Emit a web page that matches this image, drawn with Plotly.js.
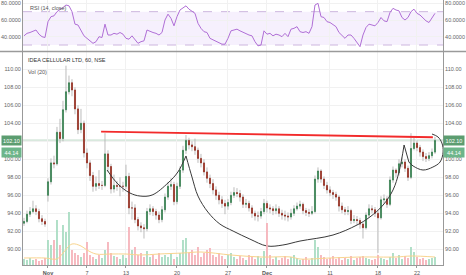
<!DOCTYPE html>
<html><head><meta charset="utf-8">
<script src="https://cdn.plot.ly/plotly-3.0.1.min.js"></script>
<style>html,body{margin:0;padding:0;background:#fff}#c{width:466px;height:275px}</style>
</head><body><div id="c"></div>
<script>
// ---- data (hourly bars, index based) ----
const tickIdx = [8, 21, 34, 51, 68, 81, 102, 118, 131];
const tickText = ['<b>Nov</b>', '7', '13', '20', '27', '<b>Dec</b>', '11', '18', '22'];

const open = [92.9,93.1,93.9,94.2,94.5,94.2,93.4,93.1, 96.0,97.5,99.6,99.5,103.0,102.3,105.5,107.5,
108.5,107.7,105.6,103.3,104.0,100.7,99.6,98.2, 97.0,97.3,97.1,97.1,100.6,99.2,96.7,97.1,
97.0,97.0,97.0,98.1,94.6,94.6,93.3,92.6, 92.4,92.3,94.2,94.5,94.2,93.8,93.3,94.4,
95.8,97.0,97.2,95.3,97.0,98.8,101.0,102.1, 101.6,101.4,101.0,100.1,99.6,98.6,97.9,97.3,
96.6,96.0,95.5,95.1,94.8,95.2,96.0,96.3, 96.2,95.8,95.0,95.1,94.6,94.0,93.7,93.7,
94.2,95.1,94.6,94.5,94.3,94.5,94.0,93.8, 93.7,93.6,94.0,94.5,94.8,95.0,94.3,94.1,
94.0,94.2,97.8,98.7,97.8,97.1,96.6,96.3, 96.1,95.8,94.8,94.4,94.2,94.3,93.2,93.3,
93.2,92.8,92.4,93.8,94.5,94.4,94.0,93.5, 95.5,95.6,95.0,97.7,98.8,98.5,99.5,99.7,
99.0,98.0,101.2,101.8,101.3,100.8,100.3,100.1, 100.4,100.8];
const high = [93.5,94.3,94.7,95.4,94.9,94.5,93.8,93.4, 97.9,100.1,100.4,103.6,104.5,106.5,110.4,109.3,
108.9,108.0,106.0,105.6,104.3,101.2,99.9,98.6, 98.1,98.8,97.6,102.9,101.0,99.5,98.3,97.6,
98.0,97.5,99.4,98.5,95.3,95.0,93.6,93.0, 92.8,94.6,95.0,94.8,94.5,94.2,94.8,96.2,
97.5,97.9,97.5,97.4,99.2,101.5,102.7,102.4, 102.0,102.3,101.3,100.6,100.0,99.1,98.3,97.8,
97.0,96.4,95.9,95.5,95.6,96.4,96.9,96.8, 96.6,96.1,95.6,95.4,94.9,94.3,94.2,94.6,
95.6,95.4,95.0,94.8,95.0,94.8,94.4,94.3, 94.1,94.5,94.9,95.2,95.4,95.2,94.6,94.5,
94.8,98.2,99.1,98.9,98.1,97.5,97.0,96.6, 96.4,96.0,95.2,94.7,94.8,94.5,93.8,93.7,
93.5,93.0,94.1,95.0,94.9,94.7,94.3,95.9, 96.1,95.9,98.1,99.2,99.0,100.0,100.2,100.0,
99.3,102.9,102.4,102.1,101.6,101.1,100.7,100.8, 101.2,102.5];
const low = [92.6,92.9,93.6,94.0,93.8,93.0,92.7,92.5, 95.3,97.2,99.0,99.3,101.8,102.0,105.2,107.2,
107.0,105.0,102.8,102.9,100.2,99.0,97.6,96.4, 96.5,96.7,96.6,96.9,98.6,96.2,96.3,96.5,
95.9,96.4,96.7,93.9,93.3,92.9,92.1,91.9, 91.2,92.0,93.8,93.7,93.3,92.9,93.0,94.1,
95.5,96.6,94.9,95.0,96.7,98.5,100.6,101.1, 100.9,100.5,99.6,99.1,98.2,97.4,96.8,96.1,
95.5,95.0,94.6,93.9,94.4,94.9,95.7,95.8, 95.3,94.6,94.6,94.2,93.5,93.2,93.1,93.4,
93.9,94.1,94.0,93.8,93.9,93.6,93.3,93.2, 93.1,93.3,93.7,94.3,94.5,93.9,93.7,93.6,
93.8,94.0,97.4,97.4,96.7,96.2,95.9,95.6, 95.4,94.2,94.0,93.8,93.8,92.8,92.9,92.7,
92.3,91.2,92.2,93.5,94.0,93.6,89.6,93.3, 95.1,94.6,94.8,97.4,98.0,98.2,99.1,98.6,
97.6,97.8,101.0,100.9,100.3,99.8,99.7,99.8, 100.1,100.6];
const close = [93.1,93.9,94.2,94.5,94.2,93.4,93.1,92.8, 97.5,99.6,99.5,103.0,102.3,105.5,107.5,108.5,
107.7,105.6,103.3,104.0,100.7,99.6,98.2,97.0, 97.3,97.1,97.1,100.6,99.2,96.7,97.1,97.0,
97.0,97.0,98.1,94.6,94.6,93.3,92.6,92.4, 92.3,94.2,94.5,94.2,93.8,93.3,94.4,95.8,
97.0,97.2,95.3,97.0,98.8,101.0,102.1,101.6, 101.4,101.0,100.1,99.6,98.6,97.9,97.3,96.6,
96.0,95.5,95.1,94.8,95.2,96.0,96.3,96.2, 95.8,95.0,95.1,94.6,94.0,93.7,93.7,94.2,
95.1,94.6,94.5,94.3,94.5,94.0,93.8,93.7, 93.6,94.0,94.5,94.8,95.0,94.3,94.1,94.0,
94.2,97.8,98.7,97.8,97.1,96.6,96.3,96.1, 95.8,94.8,94.4,94.2,94.3,93.2,93.3,93.2,
92.8,92.4,93.8,94.5,94.4,94.0,93.5,95.5, 95.6,95.0,97.7,98.8,98.5,99.5,99.7,99.0,
98.0,101.2,101.8,101.3,100.8,100.3,100.1,100.4, 100.8,102.1];
const volume = [6,5,7,5,6,4,5,7, 25,20,25,45,20,40,33,53, 15,12,10,8,12,23,10,8, 6,10,7,15,23,12,9,8,
6,10,7,38,15,18,10,12, 8,14,8,10,6,12,8,10, 8,11,6,8,12,25,27,12, 15,10,18,8,12,15,17,10,
8,12,9,6,10,12,8,6, 9,7,5,10,8,6,9,7, 14,42,10,6,8,5,7,9, 6,8,10,7,5,6,8,5,
7,25,18,10,8,6,7,9, 6,8,5,7,6,9,5,7, 8,9,7,6,5,6,10,7, 6,5,8,12,7,10,6,9,
7,18,13,8,6,7,5,6, 7,8];
const volMaIdx = [0,7,11,13,16,19,21,24,29,34,39,45,53,59,69,79,89,92,102,112,124,129,137];
const volMaVal = [7,7,6,12,21,19,15,11,11,11,10,11,12,13,10,8,8,6,7,8,8,9,8];
const rsi = [41,44,45,47,48,43,40,39, 58,64,65,70,72,75,78,77, 70,55,54,48,41,38,35,32,
34,40,39,55,42,42,44,43, 45,43,38,37,41,36,32,34, 35,48,46,45,44,42,45,60,
67,62,53,64,72,74,77,73, 70,68,56,50,46,45,38,36, 35,33,31,31,38,47,48,49,
47,45,43,42,41,34,29,30, 47,43,44,41,43,42,40,44, 40,49,50,52,46,45,46,44,
52,78,80,64,63,58,57,55, 52,45,41,38,42,42,38,33, 28,42,51,55,54,53,57,63,
59,58,69,74,72,71,63,60, 63,70,73,68,66,62,59,57, 62,68];
const lastPrice = 102.10;
const lastVol = 44.14;
// drawings
const resistX = [25.7, 136.3];
const resistY = [103.07, 102.45];
const cupSmallX = [27.7, 31.3, 35.3, 38.7, 42.7, 48, 51.3, 54];
const cupSmallY = [98.81, 97.26, 96.26, 95.92, 96.03, 97.37, 98.59, 100.37];
const cupBigX = [54, 56, 58, 61.3, 65.3, 69.7, 75.3, 81, 86.3, 92, 103, 111, 115.3, 119.7, 123, 125, 126.7];
const cupBigY = [100.37, 98.03, 95.92, 94.14, 92.81, 92.03, 91.14, 90.37, 90.48, 90.92, 91.59, 92.70, 93.59, 94.92, 96.59, 98.59, 101.59];
const dropX = [126.7, 128.3];
const dropY = [101.59, 99.70];
const handleX = [128.3, 129.7, 133, 136.3, 138.7, 139.7, 139.3, 138, 136];
const handleY = [99.70, 99.26, 98.81, 99.14, 99.70, 100.81, 101.81, 102.48, 102.81];

// ---- chart ----
const idx = close.map((_, i) => i);
const up = close.map((c, i) => c >= open[i]);
const FONT = 'Liberation Sans, Arial, sans-serif';
const tf = {family: FONT, size: 5.5, color: '#666'};

const traces = [
  {type: 'bar', x: idx, y: volume, yaxis: 'y3', width: 0.6,
   marker: {color: up.map(u => u ? '#a9dcc2' : '#f6b3ba'), line: {width: 0}}, hoverinfo: 'skip'},
  {type: 'scatter', mode: 'lines', x: volMaIdx, y: volMaVal, yaxis: 'y3',
   line: {color: '#f9d48e', width: 1, shape: 'spline'}, hoverinfo: 'skip'},
  {type: 'candlestick', x: idx, open: open, high: high, low: low, close: close,
   increasing: {line: {color: '#b4b4b4', width: 0.9}, fillcolor: '#b4b4b4'},
   decreasing: {line: {color: '#b4b4b4', width: 0.9}, fillcolor: '#b4b4b4'},
   whiskerwidth: 0, hoverinfo: 'skip'},
  {type: 'candlestick', x: idx, open: open, close: close,
   high: open.map((o, i) => Math.max(o, close[i])), low: open.map((o, i) => Math.min(o, close[i])),
   increasing: {line: {color: '#2f7d4a', width: 0.6}, fillcolor: '#3f915a'},
   decreasing: {line: {color: '#93261a', width: 0.6}, fillcolor: '#ab3322'},
   whiskerwidth: 0, hoverinfo: 'skip'},
  {type: 'scatter', mode: 'lines', x: resistX, y: resistY, line: {color: '#f22b2b', width: 1.8}, hoverinfo: 'skip'},
  {type: 'scatter', mode: 'lines', x: cupSmallX, y: cupSmallY, line: {color: '#3a3a3a', width: 1, shape: 'spline'}, hoverinfo: 'skip'},
  {type: 'scatter', mode: 'lines', x: cupBigX, y: cupBigY, line: {color: '#3a3a3a', width: 1, shape: 'spline'}, hoverinfo: 'skip'},
  {type: 'scatter', mode: 'lines', x: dropX, y: dropY, line: {color: '#3a3a3a', width: 1}, hoverinfo: 'skip'},
  {type: 'scatter', mode: 'lines', x: handleX, y: handleY, line: {color: '#3a3a3a', width: 1, shape: 'spline'}, hoverinfo: 'skip', cliponaxis: false},
  {type: 'scatter', mode: 'lines', x: idx, y: rsi, yaxis: 'y2', line: {color: '#b06fd6', width: 1}, hoverinfo: 'skip'},
  {type: 'scatter', mode: 'markers', x: [0], y: [100], yaxis: 'y4', marker: {opacity: 0}, hoverinfo: 'skip'},
  {type: 'scatter', mode: 'markers', x: [0], y: [50], yaxis: 'y5', marker: {opacity: 0}, hoverinfo: 'skip'}
];

const priceRange = [88.26, 111.92];
const rsiRange = [22.8, 84];
const mainDom = [0, 0.8038];
const rsiDom = [0.8075, 1];
const yBase = {showline: true, linecolor: '#999', linewidth: 1, gridcolor: '#f1f1f1', zeroline: false,
  tickfont: tf, ticks: '', fixedrange: true};

const layout = {
  width: 466, height: 275, margin: {l: 23, r: 23, t: 0, b: 10},
  paper_bgcolor: '#fff', plot_bgcolor: '#fff', showlegend: false, hovermode: false,
  font: {family: FONT}, boxgap: 0.5,
  xaxis: {range: [-0.33, 139.67], tickvals: tickIdx, ticktext: tickText, tickfont: {family: FONT, size: 5.5, color: '#555'},
    showline: true, linecolor: '#999', gridcolor: '#f1f1f1', zeroline: false, ticks: 'outside', ticklen: 2, tickcolor: '#999',
    rangeslider: {visible: false}, anchor: 'y'},
  yaxis: Object.assign({}, yBase, {domain: mainDom, range: priceRange, tickformat: '.2f', tick0: 0, dtick: 2, side: 'left'}),
  yaxis4: Object.assign({}, yBase, {overlaying: 'y', range: priceRange, tickformat: '.2f', tick0: 0, dtick: 2, side: 'right', showgrid: false}),
  yaxis3: {overlaying: 'y', range: [0, 213], visible: false, fixedrange: true},
  yaxis2: Object.assign({}, yBase, {domain: rsiDom, range: rsiRange, tickvals: [40, 60, 80], tickformat: '.4f', side: 'left'}),
  yaxis5: Object.assign({}, yBase, {overlaying: 'y2', range: rsiRange, tickvals: [40, 60, 80], tickformat: '.4f', side: 'right', showgrid: false}),
  shapes: [
    {type: 'rect', xref: 'paper', x0: 0, x1: 1, yref: 'y2', y0: 30, y1: 70, fillcolor: 'rgba(160,90,230,0.09)', line: {width: 0}, layer: 'below'},
    {type: 'line', xref: 'paper', x0: 0, x1: 1, yref: 'y2', y0: 70, y1: 70, line: {color: '#cdb6de', width: 1, dash: 'dash'}, layer: 'below'},
    {type: 'line', xref: 'paper', x0: 0, x1: 1, yref: 'y2', y0: 30, y1: 30, line: {color: '#cdb6de', width: 1, dash: 'dash'}, layer: 'below'},
    {type: 'line', xref: 'paper', x0: 0, x1: 1, yref: 'y', y0: lastPrice, y1: lastPrice, line: {color: '#d9e9de', width: 2.5}, layer: 'below'},
    {type: 'line', xref: 'paper', x0: -0.06, x1: 1.06, yref: 'paper', y0: 0.8057, y1: 0.8057, line: {color: '#9a9a9a', width: 1.5}}
  ],
  annotations: [
    {xref: 'paper', yref: 'paper', x: 0.012, y: 0.97, xanchor: 'left', yanchor: 'middle', showarrow: false,
     text: 'RSI (14, close)', font: {family: FONT, size: 5.5, color: '#555'}},
    {xref: 'paper', yref: 'paper', x: 0.006, y: 0.772, xanchor: 'left', yanchor: 'middle', showarrow: false,
     text: 'IDEA CELLULAR LTD, 60, NSE', font: {family: FONT, size: 5.5, color: '#333'}},
    {xref: 'paper', yref: 'paper', x: 0.006, y: 0.73, xanchor: 'left', yanchor: 'middle', showarrow: false,
     text: 'Vol (20)', font: {family: FONT, size: 5.5, color: '#555'}},
    {xref: 'paper', yref: 'y', x: -0.0275, y: lastPrice, xanchor: 'center', yanchor: 'middle', showarrow: false,
     text: lastPrice.toFixed(2), bgcolor: '#5c9d70', font: {family: FONT, size: 5.5, color: '#fff'}, width: 18, height: 8, borderpad: 0.5},
    {xref: 'paper', yref: 'y', x: -0.0275, y: 100.8, xanchor: 'center', yanchor: 'middle', showarrow: false,
     text: lastVol.toFixed(2), bgcolor: '#6db58a', font: {family: FONT, size: 5.5, color: '#fff'}, width: 18, height: 8, borderpad: 0.5},
    {xref: 'paper', yref: 'y', x: 1.0265, y: lastPrice, xanchor: 'center', yanchor: 'middle', showarrow: false,
     text: lastPrice.toFixed(2), bgcolor: '#5c9d70', font: {family: FONT, size: 5.5, color: '#fff'}, width: 19, height: 8, borderpad: 0.5},
    {xref: 'paper', yref: 'y', x: 1.0265, y: 100.8, xanchor: 'center', yanchor: 'middle', showarrow: false,
     text: lastVol.toFixed(2), bgcolor: '#6db58a', font: {family: FONT, size: 5.5, color: '#fff'}, width: 19, height: 8, borderpad: 0.5}
  ]
};

Plotly.newPlot('c', traces, layout, {staticPlot: true, displayModeBar: false});
</script>
</body></html>
